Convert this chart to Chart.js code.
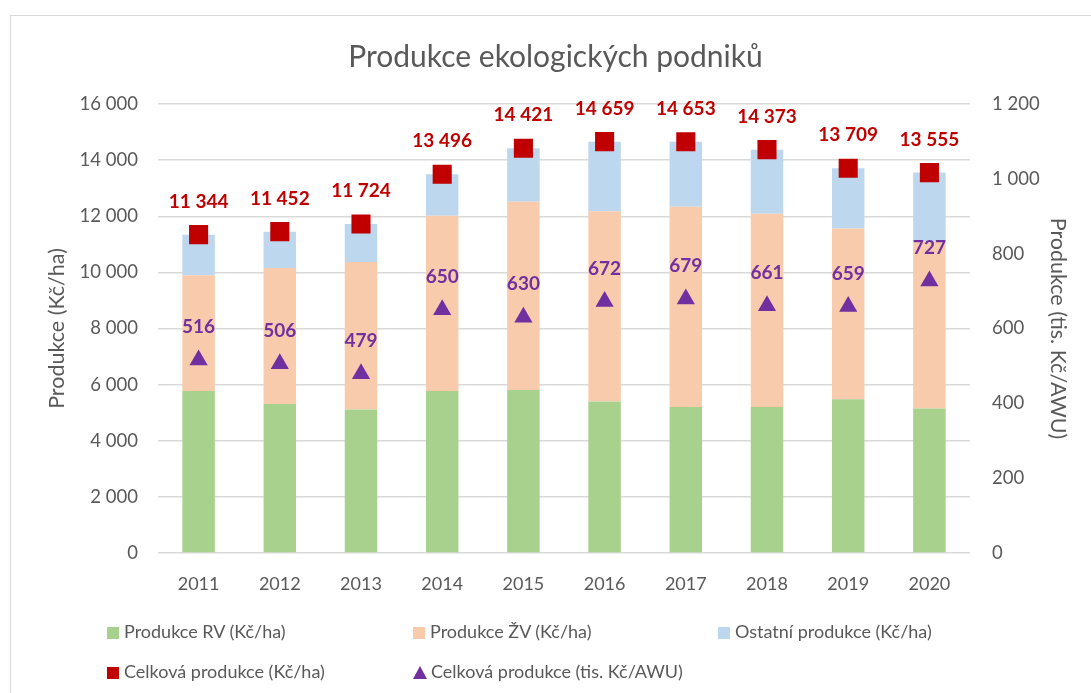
<!DOCTYPE html>
<html>
<head>
<meta charset="utf-8">
<script src="https://cdn.jsdelivr.net/npm/chart.js@4"></script>
<style>
  body { margin: 0; background: #fff; font-family: Lato, "Open Sans", sans-serif; }
  #wrap { position: relative; width: 1091px; height: 693px; overflow: hidden; }
  #frame { position: absolute; left: 10px; top: 15px; width: 1200px; height: 800px; border: 1px solid #d9d9d9; box-sizing: border-box; }
  canvas { position: absolute; left: 0; top: 0; }
  .legend-item { position: absolute; color: #595959; font-size: 18px; line-height: 20px; white-space: nowrap; }
  .legend-item .box { display: inline-block; width: 12px; height: 12px; margin-right: 5px; vertical-align: -1px; }
  .legend-item .tri { display: inline-block; width: 0; height: 0; border-left: 7px solid transparent; border-right: 7px solid transparent; border-bottom: 13px solid #7030a0; margin-right: 4px; vertical-align: -1px; }
</style>
</head>
<body>
<div id="wrap">
  <div id="frame"></div>
  <canvas id="chart" width="1091" height="693"></canvas>
  <div id="legend"></div>
</div>
<script>
  // Data
  const years = ['2011', '2012', '2013', '2014', '2015', '2016', '2017', '2018', '2019', '2020'];
  const produkceRV = [5770, 5310, 5110, 5770, 5810, 5400, 5200, 5200, 5480, 5150];
  const produkceZV = [4130, 4850, 5260, 6250, 6710, 6780, 7140, 6890, 6080, 5960];
  const ostatni = [1444, 1292, 1354, 1476, 1901, 2479, 2313, 2283, 2149, 2445];
  const celkovaHa = [11344, 11452, 11724, 13496, 14421, 14659, 14653, 14373, 13709, 13555];
  const celkovaAWU = [516, 506, 479, 650, 630, 672, 679, 661, 659, 727];

  const FONT = 'Lato, "Open Sans", sans-serif';
  const GREY = '#595959';

  // thousands with a space, like the Czech Excel format
  function fmt(v) {
    return String(v).replace(/\B(?=(\d{3})+(?!\d))/g, ' ');
  }

  // simple data label plugin (no datalabels plugin available)
  const valueLabels = {
    id: 'valueLabels',
    afterDatasetsDraw(chart) {
      const ctx = chart.ctx;
      chart.data.datasets.forEach((ds, i) => {
        if (!ds.labelColor) return;
        const meta = chart.getDatasetMeta(i);
        ctx.save();
        ctx.font = 'bold 19px ' + FONT;
        ctx.fillStyle = ds.labelColor;
        ctx.textAlign = 'center';
        ctx.textBaseline = 'middle';
        meta.data.forEach((pt, j) => {
          ctx.fillText(fmt(ds.data[j]), pt.x, pt.y - 33);
        });
        ctx.restore();
      });
    }
  };

  const ctx = document.getElementById('chart').getContext('2d');
  const chart = new Chart(ctx, {
    type: 'bar',
    data: {
      labels: years,
      datasets: [
        {
          type: 'line',
          label: 'Celková produkce (Kč/ha)',
          data: celkovaHa,
          yAxisID: 'y',
          stack: 'total',
          showLine: false,
          pointStyle: 'rect',
          pointRadius: 13.5,
          pointHoverRadius: 13.5,
          pointBackgroundColor: '#c00000',
          pointBorderWidth: 0,
          borderColor: '#c00000',
          labelColor: '#c00000',
          order: 0
        },
        {
          type: 'line',
          label: 'Celková produkce (tis. Kč/AWU)',
          data: celkovaAWU,
          yAxisID: 'y2',
          showLine: false,
          pointStyle: 'triangle',
          pointRadius: 10.5,
          pointHoverRadius: 10.5,
          pointBackgroundColor: '#7030a0',
          pointBorderWidth: 0,
          borderColor: '#7030a0',
          labelColor: '#7030a0',
          order: 0
        },
        {
          label: 'Produkce RV (Kč/ha)',
          data: produkceRV,
          backgroundColor: '#a9d18e',
          stack: 'bars',
          order: 1
        },
        {
          label: 'Produkce ŽV (Kč/ha)',
          data: produkceZV,
          backgroundColor: '#f8cbad',
          stack: 'bars',
          order: 1
        },
        {
          label: 'Ostatní produkce (Kč/ha)',
          data: ostatni,
          backgroundColor: '#bdd7ee',
          stack: 'bars',
          order: 1
        }
      ]
    },
    options: {
      responsive: false,
      animation: false,
      categoryPercentage: 0.4,
      barPercentage: 1,
      layout: { padding: { left: 40, right: 20, top: 15, bottom: 0 } },
      plugins: {
        legend: { display: false },
        tooltip: { enabled: false },
        title: {
          display: true,
          text: 'Produkce ekologických podniků',
          color: GREY,
          font: { family: FONT, size: 30, weight: 'normal' },
          padding: { top: 24, bottom: 29 }
        }
      },
      scales: {
        x: {
          stacked: true,
          grid: { display: false, drawTicks: false },
          border: { display: false },
          ticks: { color: GREY, font: { family: FONT, size: 18 }, padding: 20 },
          afterFit(scale) { scale.height = 140; }
        },
        y: {
          stacked: true,
          position: 'left',
          min: 0,
          max: 16000,
          grid: { color: '#d9d9d9', lineWidth: 1.5, drawTicks: false },
          border: { display: false },
          ticks: {
            stepSize: 2000,
            color: GREY,
            font: { family: FONT, size: 18.5 },
            padding: 20,
            callback: (v) => fmt(v)
          },
          title: {
            display: true,
            text: 'Produkce (Kč/ha)',
            color: GREY,
            font: { family: FONT, size: 21.5 },
            padding: { top: 4, bottom: 0 }
          },
          afterFit(scale) { scale.width = 118; }
        },
        y2: {
          position: 'right',
          min: 0,
          max: 1200,
          grid: { display: false, drawTicks: false },
          border: { display: false },
          ticks: {
            stepSize: 200,
            color: GREY,
            font: { family: FONT, size: 18.5 },
            padding: 22,
            callback: (v) => fmt(v)
          },
          title: {
            display: true,
            text: 'Produkce (tis. Kč/AWU)',
            color: GREY,
            font: { family: FONT, size: 21.5 },
            padding: 0
          },
          afterFit(scale) { scale.width = 101; }
        }
      }
    },
    plugins: [valueLabels]
  });

  // legend laid out in columns like the original
  const legendItems = [
    { text: 'Produkce RV (Kč/ha)', color: '#a9d18e', x: 107, y: 621 },
    { text: 'Produkce ŽV (Kč/ha)', color: '#f8cbad', x: 413, y: 621 },
    { text: 'Ostatní produkce (Kč/ha)', color: '#bdd7ee', x: 718, y: 621 },
    { text: 'Celková produkce (Kč/ha)', color: '#c00000', x: 107, y: 661 },
    { text: 'Celková produkce (tis. Kč/AWU)', color: '#7030a0', x: 413, y: 661, tri: true }
  ];
  const legend = document.getElementById('legend');
  legendItems.forEach(item => {
    const el = document.createElement('div');
    el.className = 'legend-item';
    el.style.left = item.x + 'px';
    el.style.top = item.y + 'px';
    const mark = document.createElement('span');
    if (item.tri) {
      mark.className = 'tri';
    } else {
      mark.className = 'box';
      mark.style.background = item.color;
    }
    el.appendChild(mark);
    el.appendChild(document.createTextNode(item.text));
    legend.appendChild(el);
  });
</script>
</body>
</html>
